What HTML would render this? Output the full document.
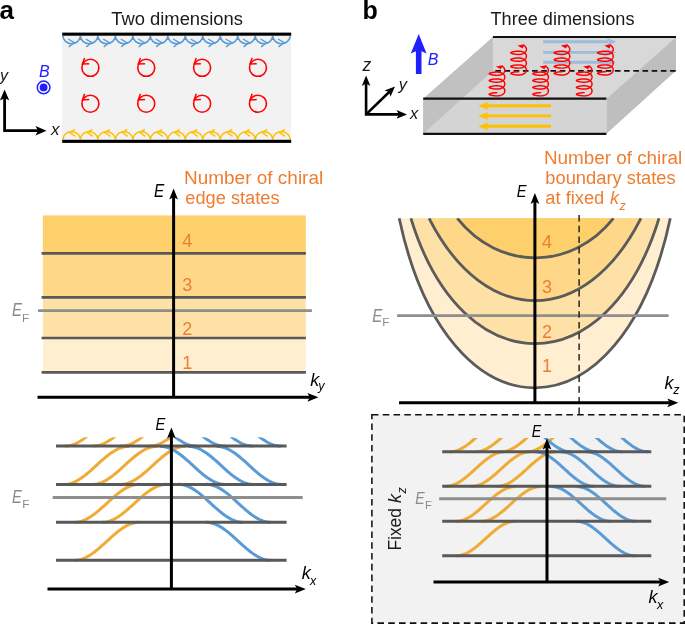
<!DOCTYPE html>
<html><head><meta charset="utf-8"><title>Chiral boundary states</title>
<style>
html,body{margin:0;padding:0;background:#fff;}
body{width:685px;height:624px;overflow:hidden;font-family:"Liberation Sans",sans-serif;}
svg{display:block;will-change:transform;font-family:"Liberation Sans",sans-serif;}
</style></head><body>
<svg width="685" height="624" viewBox="0 0 685 624">
<rect width="685" height="624" fill="#ffffff"/>
<!-- panel a top -->
<text x="-0.5" y="19.2" font-size="26" fill="#000" text-anchor="start" font-weight="bold" >a</text>
<text x="111.2" y="25.2" font-size="18" fill="#1a1a1a" text-anchor="start" textLength="131.8" lengthAdjust="spacingAndGlyphs"  >Two dimensions</text>
<rect x="62.2" y="34" width="229" height="107" fill="#f2f2f2"/>
<path d="M62.9 35.7A8.74 8 0 0 0 80.38 35.7M80.38 35.7A8.74 8 0 0 0 97.87 35.7M97.87 35.7A8.74 8 0 0 0 115.35 35.7M115.35 35.7A8.74 8 0 0 0 132.84 35.7M132.84 35.7A8.74 8 0 0 0 150.32 35.7M150.32 35.7A8.74 8 0 0 0 167.81 35.7M167.81 35.7A8.74 8 0 0 0 185.29 35.7M185.29 35.7A8.74 8 0 0 0 202.78 35.7M202.78 35.7A8.74 8 0 0 0 220.26 35.7M220.26 35.7A8.74 8 0 0 0 237.75 35.7M237.75 35.7A8.74 8 0 0 0 255.23 35.7M255.23 35.7A8.74 8 0 0 0 272.72 35.7M272.72 35.7A8.74 8 0 0 0 290.2 35.7" fill="none" stroke="#5b9bd5" stroke-width="1.6"/>
<path d="M68.24 39L74.24 42.6L68.74 46.9M85.73 39L91.73 42.6L86.23 46.9M103.21 39L109.21 42.6L103.71 46.9M120.7 39L126.7 42.6L121.2 46.9M138.18 39L144.18 42.6L138.68 46.9M155.67 39L161.67 42.6L156.17 46.9M173.15 39L179.15 42.6L173.65 46.9M190.63 39L196.63 42.6L191.13 46.9M208.12 39L214.12 42.6L208.62 46.9M225.6 39L231.6 42.6L226.1 46.9M243.09 39L249.09 42.6L243.59 46.9M260.57 39L266.57 42.6L261.07 46.9M278.06 39L284.06 42.6L278.56 46.9" fill="none" stroke="#5b9bd5" stroke-width="1.4" stroke-linejoin="miter"/>
<path d="M62.9 139.8A8.74 8.2 0 0 1 80.38 139.8M80.38 139.8A8.74 8.2 0 0 1 97.87 139.8M97.87 139.8A8.74 8.2 0 0 1 115.35 139.8M115.35 139.8A8.74 8.2 0 0 1 132.84 139.8M132.84 139.8A8.74 8.2 0 0 1 150.32 139.8M150.32 139.8A8.74 8.2 0 0 1 167.81 139.8M167.81 139.8A8.74 8.2 0 0 1 185.29 139.8M185.29 139.8A8.74 8.2 0 0 1 202.78 139.8M202.78 139.8A8.74 8.2 0 0 1 220.26 139.8M220.26 139.8A8.74 8.2 0 0 1 237.75 139.8M237.75 139.8A8.74 8.2 0 0 1 255.23 139.8M255.23 139.8A8.74 8.2 0 0 1 272.72 139.8M272.72 139.8A8.74 8.2 0 0 1 290.2 139.8" fill="none" stroke="#ffc000" stroke-width="1.6"/>
<path d="M74.84 129.3L69.84 132.5L75.34 136.4M92.33 129.3L87.33 132.5L92.83 136.4M109.81 129.3L104.81 132.5L110.31 136.4M127.3 129.3L122.3 132.5L127.8 136.4M144.78 129.3L139.78 132.5L145.28 136.4M162.27 129.3L157.27 132.5L162.77 136.4M179.75 129.3L174.75 132.5L180.25 136.4M197.23 129.3L192.23 132.5L197.73 136.4M214.72 129.3L209.72 132.5L215.22 136.4M232.2 129.3L227.2 132.5L232.7 136.4M249.69 129.3L244.69 132.5L250.19 136.4M267.17 129.3L262.17 132.5L267.67 136.4M284.66 129.3L279.66 132.5L285.16 136.4" fill="none" stroke="#ffc000" stroke-width="1.4"/>
<rect x="62.2" y="32.6" width="229" height="3.1" fill="#000"/>
<rect x="62.2" y="139.8" width="229" height="3.1" fill="#000"/>
<circle cx="90.4" cy="67.8" r="8.5" fill="none" stroke="#ff0000" stroke-width="1.6"/>
<path d="M84.6 57.9L82.4 64L89.2 63.7" fill="none" stroke="#ff0000" stroke-width="1.5"/>
<circle cx="146.25" cy="67.8" r="8.5" fill="none" stroke="#ff0000" stroke-width="1.6"/>
<path d="M140.45 57.9L138.25 64L145.05 63.7" fill="none" stroke="#ff0000" stroke-width="1.5"/>
<circle cx="202.1" cy="67.8" r="8.5" fill="none" stroke="#ff0000" stroke-width="1.6"/>
<path d="M196.3 57.9L194.1 64L200.9 63.7" fill="none" stroke="#ff0000" stroke-width="1.5"/>
<circle cx="257.95" cy="67.8" r="8.5" fill="none" stroke="#ff0000" stroke-width="1.6"/>
<path d="M252.15 57.9L249.95 64L256.75 63.7" fill="none" stroke="#ff0000" stroke-width="1.5"/>
<circle cx="90.4" cy="103.7" r="8.5" fill="none" stroke="#ff0000" stroke-width="1.6"/>
<path d="M84.6 93.8L82.4 99.9L89.2 99.6" fill="none" stroke="#ff0000" stroke-width="1.5"/>
<circle cx="146.25" cy="103.7" r="8.5" fill="none" stroke="#ff0000" stroke-width="1.6"/>
<path d="M140.45 93.8L138.25 99.9L145.05 99.6" fill="none" stroke="#ff0000" stroke-width="1.5"/>
<circle cx="202.1" cy="103.7" r="8.5" fill="none" stroke="#ff0000" stroke-width="1.6"/>
<path d="M196.3 93.8L194.1 99.9L200.9 99.6" fill="none" stroke="#ff0000" stroke-width="1.5"/>
<circle cx="257.95" cy="103.7" r="8.5" fill="none" stroke="#ff0000" stroke-width="1.6"/>
<path d="M252.15 93.8L249.95 99.9L256.75 99.6" fill="none" stroke="#ff0000" stroke-width="1.5"/>
<text x="39" y="77.3" font-size="16" fill="#2020ff" text-anchor="start" font-style="italic" >B</text>
<circle cx="43.6" cy="87.4" r="6.3" fill="none" stroke="#2020ff" stroke-width="1.5"/>
<circle cx="43.6" cy="87.4" r="3.9" fill="#2020ff"/>
<path d="M4.6 97V130.7H38" fill="none" stroke="#000" stroke-width="2.8"/>
<polygon points="4.6,89.6 9.3,100.6 4.6,98.1 -0.1,100.6" fill="#000"/>
<polygon points="46.5,130.7 35.5,135.4 38,130.7 35.5,126" fill="#000"/>
<text x="0" y="80.7" font-size="16" fill="#1a1a1a" text-anchor="start" font-style="italic" >y</text>
<text x="51" y="135.3" font-size="17" fill="#1a1a1a" text-anchor="start" font-style="italic" >x</text>
<!-- panel a middle -->
<rect x="42.9" y="215.4" width="262.9" height="37.9" fill="#fdd06c"/>
<rect x="42.9" y="253.3" width="262.9" height="44.1" fill="#fed788"/>
<rect x="42.9" y="297.4" width="262.9" height="40.6" fill="#fee1a6"/>
<rect x="42.9" y="338" width="262.9" height="34.3" fill="#ffefd0"/>
<line x1="41.6" y1="253.3" x2="305.9" y2="253.3" stroke="#595959" stroke-width="2.7" />
<line x1="41.6" y1="297.4" x2="305.9" y2="297.4" stroke="#595959" stroke-width="2.7" />
<line x1="41.6" y1="338" x2="305.9" y2="338" stroke="#595959" stroke-width="2.7" />
<line x1="41.6" y1="372.3" x2="305.9" y2="372.3" stroke="#595959" stroke-width="2.7" />
<line x1="38.1" y1="310.7" x2="311.9" y2="310.7" stroke="#8e8e8e" stroke-width="2.7" />
<line x1="37.5" y1="397.3" x2="312" y2="397.3" stroke="#000" stroke-width="3" />
<polygon points="318.4,397.3 307.4,401.7 309.8,397.3 307.4,392.9" fill="#000"/>
<line x1="173.6" y1="397.3" x2="173.6" y2="196" stroke="#000" stroke-width="3" />
<polygon points="173.6,188.4 178,199.4 173.6,197 169.2,199.4" fill="#000"/>
<text x="153.9" y="196.8" font-size="18" fill="#000" text-anchor="start" textLength="10.2" lengthAdjust="spacingAndGlyphs" font-style="italic" >E</text>
<text x="184" y="184.2" font-size="18" fill="#ee7d32" text-anchor="start" textLength="139.2" lengthAdjust="spacingAndGlyphs"  >Number of chiral</text>
<text x="185.3" y="203.5" font-size="18" fill="#ee7d32" text-anchor="start" textLength="94.2" lengthAdjust="spacingAndGlyphs"  >edge states</text>
<text x="182.3" y="246.9" font-size="18" fill="#ee7d32" text-anchor="start"  >4</text>
<text x="182.3" y="290.5" font-size="18" fill="#ee7d32" text-anchor="start"  >3</text>
<text x="182.3" y="334.8" font-size="18" fill="#ee7d32" text-anchor="start"  >2</text>
<text x="182.3" y="368.9" font-size="18" fill="#ee7d32" text-anchor="start"  >1</text>
<text x="310.3" y="386" font-size="18" fill="#000" text-anchor="start" font-style="italic" >k</text>
<text x="318.2" y="389.8" font-size="12.5" fill="#000" text-anchor="start" font-style="italic" >y</text>
<text x="12" y="315.8" font-size="18" fill="#8a8a8a" text-anchor="start" textLength="10" lengthAdjust="spacingAndGlyphs" font-style="italic" >E</text>
<text x="22" y="321.7" font-size="11.8" fill="#8a8a8a" text-anchor="start"  >F</text>
<!-- panel a bottom -->
<clipPath id="aclip"><rect x="0" y="437.3" width="685" height="300"/></clipPath>
<g clip-path="url(#aclip)" fill="none" stroke-width="3" stroke-linecap="butt">
<path d="M74.3 560.3L75.93 560.24L77.55 560.07L79.18 559.78L80.8 559.37L82.43 558.85L84.05 558.23L85.68 557.5L87.3 556.67L88.93 555.75L90.55 554.74L92.18 553.64L93.8 552.47L95.43 551.23L97.05 549.93L98.68 548.57L100.3 547.17L101.93 545.74L103.55 544.27L105.18 542.79L106.8 541.3L108.43 539.81L110.05 538.33L111.68 536.86L113.3 535.43L114.93 534.03L116.55 532.67L118.18 531.37L119.8 530.13L121.43 528.96L123.05 527.86L124.68 526.85L126.3 525.93L127.93 525.1L129.55 524.37L131.18 523.75L132.8 523.23L134.43 522.82L136.05 522.53L137.68 522.36L139.3 522.3M74.3 522.3L75.93 522.24L77.55 522.07L79.18 521.78L80.8 521.37L82.43 520.85L84.05 520.23L85.68 519.5L87.3 518.67L88.93 517.75L90.55 516.74L92.18 515.64L93.8 514.47L95.43 513.23L97.05 511.93L98.68 510.57L100.3 509.17L101.93 507.74L103.55 506.27L105.18 504.79L106.8 503.3L108.43 501.81L110.05 500.33L111.68 498.86L113.3 497.43L114.93 496.03L116.55 494.67L118.18 493.37L119.8 492.13L121.43 490.96L123.05 489.86L124.68 488.85L126.3 487.93L127.93 487.1L129.55 486.37L131.18 485.75L132.8 485.23L134.43 484.82L136.05 484.53L137.68 484.36L139.3 484.3M102 522.3L103.62 522.24L105.25 522.07L106.88 521.78L108.5 521.37L110.12 520.85L111.75 520.23L113.38 519.5L115 518.67L116.62 517.75L118.25 516.74L119.88 515.64L121.5 514.47L123.12 513.23L124.75 511.93L126.38 510.57L128 509.17L129.62 507.74L131.25 506.27L132.88 504.79L134.5 503.3L136.12 501.81L137.75 500.33L139.38 498.86L141 497.43L142.62 496.03L144.25 494.67L145.88 493.37L147.5 492.13L149.12 490.96L150.75 489.86L152.38 488.85L154 487.93L155.62 487.1L157.25 486.37L158.88 485.75L160.5 485.23L162.12 484.82L163.75 484.53L165.38 484.36L167 484.3M63.9 484.4L65.53 484.34L67.15 484.17L68.78 483.88L70.4 483.47L72.03 482.95L73.65 482.33L75.28 481.6L76.9 480.77L78.53 479.85L80.15 478.84L81.78 477.74L83.4 476.57L85.03 475.33L86.65 474.03L88.28 472.67L89.9 471.27L91.53 469.84L93.15 468.37L94.78 466.89L96.4 465.4L98.03 463.91L99.65 462.43L101.28 460.96L102.9 459.53L104.53 458.13L106.15 456.77L107.78 455.47L109.4 454.23L111.03 453.06L112.65 451.96L114.28 450.95L115.9 450.03L117.53 449.2L119.15 448.47L120.78 447.85L122.4 447.33L124.03 446.92L125.65 446.63L127.28 446.46L128.9 446.4M92.1 484.4L93.73 484.34L95.35 484.17L96.98 483.88L98.6 483.47L100.23 482.95L101.85 482.33L103.48 481.6L105.1 480.77L106.73 479.85L108.35 478.84L109.98 477.74L111.6 476.57L113.23 475.33L114.85 474.03L116.48 472.67L118.1 471.27L119.73 469.84L121.35 468.37L122.98 466.89L124.6 465.4L126.23 463.91L127.85 462.43L129.48 460.96L131.1 459.53L132.73 458.13L134.35 456.77L135.98 455.47L137.6 454.23L139.23 453.06L140.85 451.96L142.48 450.95L144.1 450.03L145.73 449.2L147.35 448.47L148.98 447.85L150.6 447.33L152.23 446.92L153.85 446.63L155.48 446.46L157.1 446.4M120.3 484.4L121.93 484.34L123.55 484.17L125.18 483.88L126.8 483.47L128.43 482.95L130.05 482.33L131.68 481.6L133.3 480.77L134.93 479.85L136.55 478.84L138.18 477.74L139.8 476.57L141.43 475.33L143.05 474.03L144.68 472.67L146.3 471.27L147.93 469.84L149.55 468.37L151.18 466.89L152.8 465.4L154.43 463.91L156.05 462.43L157.68 460.96L159.3 459.53L160.93 458.13L162.55 456.77L164.18 455.47L165.8 454.23L167.43 453.06L169.05 451.96L170.68 450.95L172.3 450.03L173.93 449.2L175.55 448.47L177.18 447.85L178.8 447.33L180.43 446.92L182.05 446.63L183.68 446.46L185.3 446.4M64.9 446.1L66.53 446.04L68.15 445.87L69.78 445.58L71.4 445.17L73.03 444.65L74.65 444.03L76.28 443.3L77.9 442.47L79.53 441.55L81.15 440.54L82.78 439.44L84.4 438.27L86.03 437.03L87.65 435.73L89.28 434.37L90.9 432.97L92.53 431.54L94.15 430.07L95.78 428.59L97.4 427.1L99.03 425.61L100.65 424.13L102.28 422.66L103.9 421.23L105.53 419.83L107.15 418.47L108.78 417.17L110.4 415.93L112.03 414.76L113.65 413.66L115.28 412.65L116.9 411.73L118.53 410.9L120.15 410.17L121.78 409.55L123.4 409.03L125.03 408.62L126.65 408.33L128.28 408.16L129.9 408.1M92.9 446.1L94.53 446.04L96.15 445.87L97.78 445.58L99.4 445.17L101.03 444.65L102.65 444.03L104.28 443.3L105.9 442.47L107.53 441.55L109.15 440.54L110.78 439.44L112.4 438.27L114.03 437.03L115.65 435.73L117.28 434.37L118.9 432.97L120.53 431.54L122.15 430.07L123.78 428.59L125.4 427.1L127.03 425.61L128.65 424.13L130.28 422.66L131.9 421.23L133.53 419.83L135.15 418.47L136.78 417.17L138.4 415.93L140.03 414.76L141.65 413.66L143.28 412.65L144.9 411.73L146.53 410.9L148.15 410.17L149.78 409.55L151.4 409.03L153.03 408.62L154.65 408.33L156.28 408.16L157.9 408.1M120.9 446.1L122.53 446.04L124.15 445.87L125.78 445.58L127.4 445.17L129.03 444.65L130.65 444.03L132.28 443.3L133.9 442.47L135.53 441.55L137.15 440.54L138.78 439.44L140.4 438.27L142.03 437.03L143.65 435.73L145.28 434.37L146.9 432.97L148.53 431.54L150.15 430.07L151.78 428.59L153.4 427.1L155.03 425.61L156.65 424.13L158.28 422.66L159.9 421.23L161.53 419.83L163.15 418.47L164.78 417.17L166.4 415.93L168.03 414.76L169.65 413.66L171.28 412.65L172.9 411.73L174.53 410.9L176.15 410.17L177.78 409.55L179.4 409.03L181.03 408.62L182.65 408.33L184.28 408.16L185.9 408.1M149.4 446.1L151.03 446.04L152.65 445.87L154.28 445.58L155.9 445.17L157.53 444.65L159.15 444.03L160.78 443.3L162.4 442.47L164.03 441.55L165.65 440.54L167.28 439.44L168.9 438.27L170.53 437.03L172.15 435.73L173.78 434.37L175.4 432.97L177.03 431.54L178.65 430.07L180.28 428.59L181.9 427.1L183.53 425.61L185.15 424.13L186.78 422.66L188.4 421.23L190.03 419.83L191.65 418.47L193.28 417.17L194.9 415.93L196.53 414.76L198.15 413.66L199.78 412.65L201.4 411.73L203.03 410.9L204.65 410.17L206.28 409.55L207.9 409.03L209.53 408.62L211.15 408.33L212.78 408.16L214.4 408.1" stroke="#f0ab34"/>
<path d="M205.9 522.3L207.53 522.36L209.15 522.53L210.78 522.82L212.4 523.23L214.03 523.75L215.65 524.37L217.28 525.1L218.9 525.93L220.53 526.85L222.15 527.86L223.78 528.96L225.4 530.13L227.03 531.37L228.65 532.67L230.28 534.03L231.9 535.43L233.53 536.86L235.15 538.33L236.78 539.81L238.4 541.3L240.03 542.79L241.65 544.27L243.28 545.74L244.9 547.17L246.53 548.57L248.15 549.93L249.78 551.23L251.4 552.47L253.03 553.64L254.65 554.74L256.27 555.75L257.9 556.67L259.52 557.5L261.15 558.23L262.77 558.85L264.4 559.37L266.02 559.78L267.65 560.07L269.27 560.24L270.9 560.3M205.9 484.3L207.53 484.36L209.15 484.53L210.78 484.82L212.4 485.23L214.03 485.75L215.65 486.37L217.28 487.1L218.9 487.93L220.53 488.85L222.15 489.86L223.78 490.96L225.4 492.13L227.03 493.37L228.65 494.67L230.28 496.03L231.9 497.43L233.53 498.86L235.15 500.33L236.78 501.81L238.4 503.3L240.03 504.79L241.65 506.27L243.28 507.74L244.9 509.17L246.53 510.57L248.15 511.93L249.78 513.23L251.4 514.47L253.03 515.64L254.65 516.74L256.27 517.75L257.9 518.67L259.52 519.5L261.15 520.23L262.77 520.85L264.4 521.37L266.02 521.78L267.65 522.07L269.27 522.24L270.9 522.3M178.2 484.3L179.82 484.36L181.45 484.53L183.07 484.82L184.7 485.23L186.32 485.75L187.95 486.37L189.57 487.1L191.2 487.93L192.82 488.85L194.45 489.86L196.07 490.96L197.7 492.13L199.32 493.37L200.95 494.67L202.57 496.03L204.2 497.43L205.82 498.86L207.45 500.33L209.07 501.81L210.7 503.3L212.32 504.79L213.95 506.27L215.57 507.74L217.2 509.17L218.82 510.57L220.45 511.93L222.07 513.23L223.7 514.47L225.32 515.64L226.95 516.74L228.57 517.75L230.2 518.67L231.82 519.5L233.45 520.23L235.07 520.85L236.7 521.37L238.32 521.78L239.95 522.07L241.57 522.24L243.2 522.3M216.7 446.4L218.32 446.46L219.95 446.63L221.57 446.92L223.2 447.33L224.82 447.85L226.45 448.47L228.07 449.2L229.7 450.03L231.32 450.95L232.95 451.96L234.57 453.06L236.2 454.23L237.82 455.47L239.45 456.77L241.07 458.13L242.7 459.53L244.32 460.96L245.95 462.43L247.57 463.91L249.2 465.4L250.82 466.89L252.45 468.37L254.07 469.84L255.7 471.27L257.32 472.67L258.95 474.03L260.57 475.33L262.2 476.57L263.82 477.74L265.45 478.84L267.07 479.85L268.7 480.77L270.32 481.6L271.95 482.33L273.57 482.95L275.2 483.47L276.82 483.88L278.45 484.17L280.07 484.34L281.7 484.4M188.5 446.4L190.12 446.46L191.75 446.63L193.38 446.92L195 447.33L196.62 447.85L198.25 448.47L199.88 449.2L201.5 450.03L203.12 450.95L204.75 451.96L206.38 453.06L208 454.23L209.62 455.47L211.25 456.77L212.88 458.13L214.5 459.53L216.12 460.96L217.75 462.43L219.38 463.91L221 465.4L222.62 466.89L224.25 468.37L225.88 469.84L227.5 471.27L229.12 472.67L230.75 474.03L232.38 475.33L234 476.57L235.62 477.74L237.25 478.84L238.88 479.85L240.5 480.77L242.12 481.6L243.75 482.33L245.38 482.95L247 483.47L248.62 483.88L250.25 484.17L251.88 484.34L253.5 484.4M160.3 446.4L161.93 446.46L163.55 446.63L165.18 446.92L166.8 447.33L168.43 447.85L170.05 448.47L171.68 449.2L173.3 450.03L174.93 450.95L176.55 451.96L178.18 453.06L179.8 454.23L181.43 455.47L183.05 456.77L184.68 458.13L186.3 459.53L187.93 460.96L189.55 462.43L191.18 463.91L192.8 465.4L194.43 466.89L196.05 468.37L197.68 469.84L199.3 471.27L200.93 472.67L202.55 474.03L204.18 475.33L205.8 476.57L207.43 477.74L209.05 478.84L210.68 479.85L212.3 480.77L213.93 481.6L215.55 482.33L217.18 482.95L218.8 483.47L220.43 483.88L222.05 484.17L223.68 484.34L225.3 484.4M215.9 408.1L217.53 408.16L219.15 408.33L220.78 408.62L222.4 409.03L224.03 409.55L225.65 410.17L227.28 410.9L228.9 411.73L230.53 412.65L232.15 413.66L233.78 414.76L235.4 415.93L237.03 417.17L238.65 418.47L240.28 419.83L241.9 421.23L243.53 422.66L245.15 424.13L246.78 425.61L248.4 427.1L250.03 428.59L251.65 430.07L253.28 431.54L254.9 432.97L256.52 434.37L258.15 435.73L259.77 437.03L261.4 438.27L263.02 439.44L264.65 440.54L266.27 441.55L267.9 442.47L269.52 443.3L271.15 444.03L272.77 444.65L274.4 445.17L276.02 445.58L277.65 445.87L279.27 446.04L280.9 446.1M187.9 408.1L189.53 408.16L191.15 408.33L192.78 408.62L194.4 409.03L196.03 409.55L197.65 410.17L199.28 410.9L200.9 411.73L202.53 412.65L204.15 413.66L205.78 414.76L207.4 415.93L209.03 417.17L210.65 418.47L212.28 419.83L213.9 421.23L215.53 422.66L217.15 424.13L218.78 425.61L220.4 427.1L222.03 428.59L223.65 430.07L225.28 431.54L226.9 432.97L228.53 434.37L230.15 435.73L231.78 437.03L233.4 438.27L235.03 439.44L236.65 440.54L238.28 441.55L239.9 442.47L241.53 443.3L243.15 444.03L244.78 444.65L246.4 445.17L248.03 445.58L249.65 445.87L251.28 446.04L252.9 446.1M159.9 408.1L161.53 408.16L163.15 408.33L164.78 408.62L166.4 409.03L168.03 409.55L169.65 410.17L171.28 410.9L172.9 411.73L174.53 412.65L176.15 413.66L177.78 414.76L179.4 415.93L181.03 417.17L182.65 418.47L184.28 419.83L185.9 421.23L187.53 422.66L189.15 424.13L190.78 425.61L192.4 427.1L194.03 428.59L195.65 430.07L197.28 431.54L198.9 432.97L200.53 434.37L202.15 435.73L203.78 437.03L205.4 438.27L207.03 439.44L208.65 440.54L210.28 441.55L211.9 442.47L213.53 443.3L215.15 444.03L216.78 444.65L218.4 445.17L220.03 445.58L221.65 445.87L223.28 446.04L224.9 446.1M131.4 408.1L133.03 408.16L134.65 408.33L136.28 408.62L137.9 409.03L139.53 409.55L141.15 410.17L142.78 410.9L144.4 411.73L146.03 412.65L147.65 413.66L149.28 414.76L150.9 415.93L152.53 417.17L154.15 418.47L155.78 419.83L157.4 421.23L159.03 422.66L160.65 424.13L162.28 425.61L163.9 427.1L165.53 428.59L167.15 430.07L168.78 431.54L170.4 432.97L172.03 434.37L173.65 435.73L175.28 437.03L176.9 438.27L178.53 439.44L180.15 440.54L181.78 441.55L183.4 442.47L185.03 443.3L186.65 444.03L188.28 444.65L189.9 445.17L191.53 445.58L193.15 445.87L194.78 446.04L196.4 446.1" stroke="#5b9bd5"/>
</g>
<line x1="56" y1="560.3" x2="286.6" y2="560.3" stroke="#595959" stroke-width="3" />
<line x1="56" y1="522.3" x2="286.6" y2="522.3" stroke="#595959" stroke-width="3" />
<line x1="56" y1="484.4" x2="286.6" y2="484.4" stroke="#595959" stroke-width="3" />
<line x1="56" y1="446.1" x2="286.6" y2="446.1" stroke="#595959" stroke-width="3" />
<line x1="52.7" y1="497.6" x2="302.7" y2="497.6" stroke="#8e8e8e" stroke-width="3" />
<line x1="47.5" y1="589.1" x2="299" y2="589.1" stroke="#000" stroke-width="3" />
<polygon points="305.8,589.1 294.8,593.5 297.2,589.1 294.8,584.7" fill="#000"/>
<line x1="171.4" y1="589.1" x2="171.4" y2="435" stroke="#000" stroke-width="3" />
<polygon points="171.4,427.4 175.8,438.4 171.4,436 167,438.4" fill="#000"/>
<text x="155.5" y="430.1" font-size="17" fill="#000" text-anchor="start" textLength="9.8" lengthAdjust="spacingAndGlyphs" font-style="italic" >E</text>
<text x="301.7" y="579.2" font-size="18" fill="#000" text-anchor="start" font-style="italic" >k</text>
<text x="310" y="584.9" font-size="12.5" fill="#000" text-anchor="start" font-style="italic" >x</text>
<text x="12" y="502.9" font-size="17.5" fill="#8a8a8a" text-anchor="start" textLength="9.8" lengthAdjust="spacingAndGlyphs" font-style="italic" >E</text>
<text x="22.2" y="508.1" font-size="11.8" fill="#8a8a8a" text-anchor="start"  >F</text>
<!-- panel b top -->
<text x="362.6" y="18.5" font-size="25" fill="#000" text-anchor="start" font-weight="bold" >b</text>
<text x="490.5" y="25" font-size="18" fill="#1a1a1a" text-anchor="start" textLength="144" lengthAdjust="spacingAndGlyphs"  >Three dimensions</text>
<polygon points="423.2,98.7 492.9,36.9 676,36.9 606.4,98.7" fill="#d8d8d8" />
<polygon points="423.2,98.7 606.4,98.7 606.4,133.8 423.2,133.8" fill="#d4d4d4" />
<polygon points="423.2,98.7 492.9,36.9 492.9,70.8 423.2,133.8" fill="#bdbdbd" fill-opacity="0.85"/>
<polygon points="606.4,98.7 676,36.9 676,70.8 606.4,133.8" fill="#bebebe" />
<line x1="543.1" y1="41.7" x2="608" y2="41.7" stroke="#9dbbdd" stroke-width="2.9" />
<polygon points="616.4,41.7 606.9,45.4 608.8,41.7 606.9,38" fill="#9dbbdd"/>
<line x1="543.1" y1="52.4" x2="608" y2="52.4" stroke="#9dbbdd" stroke-width="2.9" />
<polygon points="616.4,52.4 606.9,56.1 608.8,52.4 606.9,48.7" fill="#9dbbdd"/>
<line x1="543.1" y1="62.3" x2="608" y2="62.3" stroke="#9dbbdd" stroke-width="2.9" />
<polygon points="616.4,62.3 606.9,66 608.8,62.3 606.9,58.6" fill="#9dbbdd"/>
<line x1="495.3" y1="70.8" x2="676" y2="70.8" stroke="#111" stroke-width="1.8" stroke-dasharray="5.6 3.6"/>
<line x1="486" y1="105.8" x2="551" y2="105.8" stroke="#ffc000" stroke-width="2.9" />
<polygon points="478.4,105.8 488.4,101.7 486,105.8 488.4,109.9" fill="#ffc000"/>
<line x1="486" y1="115.9" x2="551" y2="115.9" stroke="#ffc000" stroke-width="2.9" />
<polygon points="478.4,115.9 488.4,111.8 486,115.9 488.4,120" fill="#ffc000"/>
<line x1="486" y1="126.3" x2="551" y2="126.3" stroke="#ffc000" stroke-width="2.9" />
<polygon points="478.4,126.3 488.4,122.2 486,126.3 488.4,130.4" fill="#ffc000"/>
<line x1="492.9" y1="36.9" x2="676" y2="36.9" stroke="#111" stroke-width="2" />
<line x1="423.2" y1="98.7" x2="606.4" y2="98.7" stroke="#111" stroke-width="2.2" />
<line x1="423.2" y1="133.8" x2="606.4" y2="133.8" stroke="#111" stroke-width="2.2" />
<path d="M519.09 71.74L518.35 71.72L517.62 71.74L516.89 71.78L516.18 71.84L515.49 71.92L514.83 72.02L514.2 72.12L513.62 72.23L513.07 72.35L512.58 72.47L512.14 72.6L511.75 72.72L511.43 72.85L511.17 72.97L510.98 73.09L510.86 73.21L510.8 73.33L510.82 73.45L510.9 73.57L511.05 73.69L511.27 73.81L511.56 73.93L511.91 74.05L512.32 74.18L512.78 74.3L513.3 74.42L513.86 74.54L514.47 74.65L515.11 74.75L515.78 74.84L516.48 74.91L517.2 74.97L517.93 75L518.66 75L519.4 74.97L520.13 74.91L520.84 74.82L521.54 74.68L522.21 74.51L522.84 74.29L523.44 74.03L524 73.74L524.5 73.4L524.96 73.02L525.36 72.61L525.69 72.18L525.97 71.71L526.18 71.22L526.32 70.72L526.39 70.21L526.39 69.7L526.33 69.19L526.19 68.69L525.99 68.2L525.72 67.73L525.38 67.29L524.99 66.88L524.54 66.5L524.04 66.16L523.48 65.86L522.89 65.6L522.25 65.38L521.59 65.21L520.9 65.07L520.18 64.97L519.45 64.91L518.72 64.88L517.98 64.88L517.25 64.91L516.53 64.96L515.83 65.03L515.16 65.12L514.51 65.22L513.9 65.33L513.34 65.44L512.82 65.56L512.35 65.69L511.94 65.81L511.58 65.93L511.29 66.06L511.07 66.18L510.91 66.3L510.82 66.42L510.8 66.54L510.85 66.66L510.97 66.78L511.16 66.9L511.41 67.02L511.73 67.14L512.11 67.27L512.54 67.39L513.03 67.51L513.57 67.63L514.16 67.75L514.78 67.85L515.44 67.95L516.13 68.03L516.84 68.09L517.56 68.13L518.3 68.15L519.04 68.14L519.77 68.1L520.49 68.02L521.2 67.9L521.88 67.75L522.53 67.55L523.15 67.32L523.73 67.04L524.26 66.72L524.74 66.36L525.17 65.97L525.53 65.55L525.84 65.09L526.08 64.62L526.26 64.12L526.36 63.62L526.4 63.1L526.37 62.59L526.27 62.08L526.1 61.59L525.86 61.11L525.56 60.66L525.19 60.23L524.77 59.84L524.29 59.48L523.76 59.16L523.19 58.88L522.57 58.64L521.92 58.44L521.24 58.28L520.54 58.16L519.82 58.08L519.08 58.04L518.35 58.02L517.61 58.04L516.89 58.08L516.18 58.14L515.49 58.22L514.83 58.32L514.2 58.42L513.61 58.53L513.07 58.65L512.57 58.78L512.13 58.9L511.75 59.02L511.43 59.15L511.17 59.27L510.98 59.39L510.86 59.51L510.8 59.63L510.82 59.75L510.9 59.87L511.06 59.99L511.28 60.11L511.56 60.23L511.91 60.36L512.32 60.48L512.78 60.6L513.3 60.72L513.86 60.84L514.47 60.95L515.11 61.05L515.79 61.14L516.49 61.21L517.2 61.27L517.93 61.3L518.67 61.3L519.41 61.27L520.13 61.21L520.85 61.12L521.54 60.98L522.21 60.8L522.85 60.59L523.45 60.33L524 60.03L524.51 59.69L524.96 59.32L525.36 58.91L525.7 58.47L525.97 58.01L526.18 57.52L526.32 57.02L526.39 56.51L526.39 56L526.32 55.48L526.19 54.98L525.98 54.5L525.71 54.03L525.38 53.59L524.99 53.18L524.54 52.8L524.03 52.46L523.48 52.16L522.88 51.9L522.25 51.68L521.58 51.5L520.89 51.37L520.18 51.27L519.45 51.21L518.71 51.18L517.98 51.18L517.25 51.21L516.53 51.26L515.83 51.33L515.15 51.42L514.51 51.52L513.9 51.63L513.33 51.74L512.81 51.86L512.35 51.99L511.93 52.11L511.58 52.24L511.29 52.36L511.07 52.48L510.91 52.6L510.82 52.72L510.8 52.84L510.85 52.96L510.97 53.08L511.16 53.2L511.41 53.32L511.73 53.44L512.11 53.57L512.55 53.69L513.04 53.81L513.58 53.93L514.16 54.05L514.79 54.15L515.45 54.25L516.14 54.33L516.85 54.39L517.57 54.43L518.3 54.45L519.04 54.44L519.77 54.4L520.5 54.32L521.2 54.2L521.88 54.05L522.54 53.85L523.15 53.61L523.73 53.34L524.26 53.02L524.74 52.66L525.17 52.27L525.54 51.84L525.84 51.39L526.08 50.91L526.26 50.42L526.36 49.91L526.4 49.4L526.37 48.89L526.26 48.38L526.09 47.89L525.86 47.41L525.55 46.95L525.19 46.53L524.77 46.13L524.29 45.77L523.76 45.45L523.18 45.17" fill="none" stroke="#ff0000" stroke-width="1.45" stroke-linejoin="round"/><polygon points="517.5,45.52 524.5,44.23 522.5,48.42" fill="#ff0000" />
<path d="M562.49 71.74L561.75 71.72L561.02 71.74L560.29 71.78L559.58 71.84L558.89 71.92L558.23 72.02L557.6 72.12L557.02 72.23L556.47 72.35L555.98 72.47L555.54 72.6L555.15 72.72L554.83 72.85L554.57 72.97L554.38 73.09L554.26 73.21L554.2 73.33L554.22 73.45L554.3 73.57L554.45 73.69L554.67 73.81L554.96 73.93L555.31 74.05L555.72 74.18L556.18 74.3L556.7 74.42L557.26 74.54L557.87 74.65L558.51 74.75L559.18 74.84L559.88 74.91L560.6 74.97L561.33 75L562.06 75L562.8 74.97L563.53 74.91L564.24 74.82L564.94 74.68L565.61 74.51L566.24 74.29L566.84 74.03L567.4 73.74L567.9 73.4L568.36 73.02L568.76 72.61L569.09 72.18L569.37 71.71L569.58 71.22L569.72 70.72L569.79 70.21L569.79 69.7L569.73 69.19L569.59 68.69L569.39 68.2L569.12 67.73L568.78 67.29L568.39 66.88L567.94 66.5L567.44 66.16L566.88 65.86L566.29 65.6L565.65 65.38L564.99 65.21L564.3 65.07L563.58 64.97L562.85 64.91L562.12 64.88L561.38 64.88L560.65 64.91L559.93 64.96L559.23 65.03L558.56 65.12L557.91 65.22L557.3 65.33L556.74 65.44L556.22 65.56L555.75 65.69L555.34 65.81L554.98 65.93L554.69 66.06L554.47 66.18L554.31 66.3L554.22 66.42L554.2 66.54L554.25 66.66L554.37 66.78L554.56 66.9L554.81 67.02L555.13 67.14L555.51 67.27L555.94 67.39L556.43 67.51L556.97 67.63L557.56 67.75L558.18 67.85L558.84 67.95L559.53 68.03L560.24 68.09L560.96 68.13L561.7 68.15L562.44 68.14L563.17 68.1L563.89 68.02L564.6 67.9L565.28 67.75L565.93 67.55L566.55 67.32L567.13 67.04L567.66 66.72L568.14 66.36L568.57 65.97L568.93 65.55L569.24 65.09L569.48 64.62L569.66 64.12L569.76 63.62L569.8 63.1L569.77 62.59L569.67 62.08L569.5 61.59L569.26 61.11L568.96 60.66L568.59 60.23L568.17 59.84L567.69 59.48L567.16 59.16L566.59 58.88L565.97 58.64L565.32 58.44L564.64 58.28L563.94 58.16L563.22 58.08L562.48 58.04L561.75 58.02L561.01 58.04L560.29 58.08L559.58 58.14L558.89 58.22L558.23 58.32L557.6 58.42L557.01 58.53L556.47 58.65L555.97 58.78L555.53 58.9L555.15 59.02L554.83 59.15L554.57 59.27L554.38 59.39L554.26 59.51L554.2 59.63L554.22 59.75L554.3 59.87L554.46 59.99L554.68 60.11L554.96 60.23L555.31 60.36L555.72 60.48L556.18 60.6L556.7 60.72L557.26 60.84L557.87 60.95L558.51 61.05L559.19 61.14L559.89 61.21L560.6 61.27L561.33 61.3L562.07 61.3L562.81 61.27L563.53 61.21L564.25 61.12L564.94 60.98L565.61 60.8L566.25 60.59L566.85 60.33L567.4 60.03L567.91 59.69L568.36 59.32L568.76 58.91L569.1 58.47L569.37 58.01L569.58 57.52L569.72 57.02L569.79 56.51L569.79 56L569.72 55.48L569.59 54.98L569.38 54.5L569.11 54.03L568.78 53.59L568.39 53.18L567.94 52.8L567.43 52.46L566.88 52.16L566.28 51.9L565.65 51.68L564.98 51.5L564.29 51.37L563.58 51.27L562.85 51.21L562.11 51.18L561.38 51.18L560.65 51.21L559.93 51.26L559.23 51.33L558.55 51.42L557.91 51.52L557.3 51.63L556.73 51.74L556.21 51.86L555.75 51.99L555.33 52.11L554.98 52.24L554.69 52.36L554.47 52.48L554.31 52.6L554.22 52.72L554.2 52.84L554.25 52.96L554.37 53.08L554.56 53.2L554.81 53.32L555.13 53.44L555.51 53.57L555.95 53.69L556.44 53.81L556.98 53.93L557.56 54.05L558.19 54.15L558.85 54.25L559.54 54.33L560.25 54.39L560.97 54.43L561.7 54.45L562.44 54.44L563.17 54.4L563.9 54.32L564.6 54.2L565.28 54.05L565.94 53.85L566.55 53.61L567.13 53.34L567.66 53.02L568.14 52.66L568.57 52.27L568.94 51.84L569.24 51.39L569.48 50.91L569.66 50.42L569.76 49.91L569.8 49.4L569.77 48.89L569.66 48.38L569.49 47.89L569.26 47.41L568.95 46.95L568.59 46.53L568.17 46.13L567.69 45.77L567.16 45.45L566.58 45.17" fill="none" stroke="#ff0000" stroke-width="1.45" stroke-linejoin="round"/><polygon points="560.9,45.52 567.9,44.23 565.9,48.42" fill="#ff0000" />
<path d="M605.89 71.74L605.15 71.72L604.42 71.74L603.69 71.78L602.98 71.84L602.29 71.92L601.63 72.02L601 72.12L600.42 72.23L599.87 72.35L599.38 72.47L598.94 72.6L598.55 72.72L598.23 72.85L597.97 72.97L597.78 73.09L597.66 73.21L597.6 73.33L597.62 73.45L597.7 73.57L597.85 73.69L598.07 73.81L598.36 73.93L598.71 74.05L599.12 74.18L599.58 74.3L600.1 74.42L600.66 74.54L601.27 74.65L601.91 74.75L602.58 74.84L603.28 74.91L604 74.97L604.73 75L605.46 75L606.2 74.97L606.93 74.91L607.64 74.82L608.34 74.68L609.01 74.51L609.64 74.29L610.24 74.03L610.8 73.74L611.3 73.4L611.76 73.02L612.16 72.61L612.49 72.18L612.77 71.71L612.98 71.22L613.12 70.72L613.19 70.21L613.19 69.7L613.13 69.19L612.99 68.69L612.79 68.2L612.52 67.73L612.18 67.29L611.79 66.88L611.34 66.5L610.84 66.16L610.28 65.86L609.69 65.6L609.05 65.38L608.39 65.21L607.7 65.07L606.98 64.97L606.25 64.91L605.52 64.88L604.78 64.88L604.05 64.91L603.33 64.96L602.63 65.03L601.96 65.12L601.31 65.22L600.7 65.33L600.14 65.44L599.62 65.56L599.15 65.69L598.74 65.81L598.38 65.93L598.09 66.06L597.87 66.18L597.71 66.3L597.62 66.42L597.6 66.54L597.65 66.66L597.77 66.78L597.96 66.9L598.21 67.02L598.53 67.14L598.91 67.27L599.34 67.39L599.83 67.51L600.37 67.63L600.96 67.75L601.58 67.85L602.24 67.95L602.93 68.03L603.64 68.09L604.36 68.13L605.1 68.15L605.84 68.14L606.57 68.1L607.29 68.02L608 67.9L608.68 67.75L609.33 67.55L609.95 67.32L610.53 67.04L611.06 66.72L611.54 66.36L611.97 65.97L612.33 65.55L612.64 65.09L612.88 64.62L613.06 64.12L613.16 63.62L613.2 63.1L613.17 62.59L613.07 62.08L612.9 61.59L612.66 61.11L612.36 60.66L611.99 60.23L611.57 59.84L611.09 59.48L610.56 59.16L609.99 58.88L609.37 58.64L608.72 58.44L608.04 58.28L607.34 58.16L606.62 58.08L605.88 58.04L605.15 58.02L604.41 58.04L603.69 58.08L602.98 58.14L602.29 58.22L601.63 58.32L601 58.42L600.41 58.53L599.87 58.65L599.37 58.78L598.93 58.9L598.55 59.02L598.23 59.15L597.97 59.27L597.78 59.39L597.66 59.51L597.6 59.63L597.62 59.75L597.7 59.87L597.86 59.99L598.08 60.11L598.36 60.23L598.71 60.36L599.12 60.48L599.58 60.6L600.1 60.72L600.66 60.84L601.27 60.95L601.91 61.05L602.59 61.14L603.29 61.21L604 61.27L604.73 61.3L605.47 61.3L606.21 61.27L606.93 61.21L607.65 61.12L608.34 60.98L609.01 60.8L609.65 60.59L610.25 60.33L610.8 60.03L611.31 59.69L611.76 59.32L612.16 58.91L612.5 58.47L612.77 58.01L612.98 57.52L613.12 57.02L613.19 56.51L613.19 56L613.12 55.48L612.99 54.98L612.78 54.5L612.51 54.03L612.18 53.59L611.79 53.18L611.34 52.8L610.83 52.46L610.28 52.16L609.68 51.9L609.05 51.68L608.38 51.5L607.69 51.37L606.98 51.27L606.25 51.21L605.51 51.18L604.78 51.18L604.05 51.21L603.33 51.26L602.63 51.33L601.95 51.42L601.31 51.52L600.7 51.63L600.13 51.74L599.61 51.86L599.15 51.99L598.73 52.11L598.38 52.24L598.09 52.36L597.87 52.48L597.71 52.6L597.62 52.72L597.6 52.84L597.65 52.96L597.77 53.08L597.96 53.2L598.21 53.32L598.53 53.44L598.91 53.57L599.35 53.69L599.84 53.81L600.38 53.93L600.96 54.05L601.59 54.15L602.25 54.25L602.94 54.33L603.65 54.39L604.37 54.43L605.1 54.45L605.84 54.44L606.57 54.4L607.3 54.32L608 54.2L608.68 54.05L609.34 53.85L609.95 53.61L610.53 53.34L611.06 53.02L611.54 52.66L611.97 52.27L612.34 51.84L612.64 51.39L612.88 50.91L613.06 50.42L613.16 49.91L613.2 49.4L613.17 48.89L613.06 48.38L612.89 47.89L612.66 47.41L612.35 46.95L611.99 46.53L611.57 46.13L611.09 45.77L610.56 45.45L609.98 45.17" fill="none" stroke="#ff0000" stroke-width="1.45" stroke-linejoin="round"/><polygon points="604.3,45.52 611.3,44.23 609.3,48.42" fill="#ff0000" />
<path d="M497.49 92.64L496.75 92.62L496.02 92.64L495.29 92.68L494.58 92.74L493.89 92.82L493.23 92.92L492.6 93.02L492.02 93.13L491.47 93.25L490.98 93.37L490.54 93.5L490.15 93.62L489.83 93.75L489.57 93.87L489.38 93.99L489.26 94.11L489.2 94.23L489.22 94.35L489.3 94.47L489.45 94.59L489.67 94.71L489.96 94.83L490.31 94.95L490.72 95.08L491.18 95.2L491.7 95.32L492.26 95.44L492.87 95.55L493.51 95.65L494.18 95.74L494.88 95.81L495.6 95.87L496.33 95.9L497.06 95.9L497.8 95.87L498.53 95.81L499.24 95.72L499.94 95.58L500.61 95.41L501.24 95.19L501.84 94.93L502.4 94.64L502.9 94.3L503.36 93.92L503.76 93.51L504.09 93.08L504.37 92.61L504.58 92.12L504.72 91.62L504.79 91.11L504.79 90.6L504.73 90.09L504.59 89.59L504.39 89.1L504.12 88.63L503.78 88.19L503.39 87.78L502.94 87.4L502.44 87.06L501.88 86.76L501.29 86.5L500.65 86.28L499.99 86.11L499.3 85.97L498.58 85.87L497.85 85.81L497.12 85.78L496.38 85.78L495.65 85.81L494.93 85.86L494.23 85.93L493.56 86.02L492.91 86.12L492.3 86.23L491.74 86.34L491.22 86.46L490.75 86.59L490.34 86.71L489.98 86.83L489.69 86.96L489.47 87.08L489.31 87.2L489.22 87.32L489.2 87.44L489.25 87.56L489.37 87.68L489.56 87.8L489.81 87.92L490.13 88.04L490.51 88.17L490.94 88.29L491.43 88.41L491.97 88.53L492.56 88.65L493.18 88.75L493.84 88.85L494.53 88.93L495.24 88.99L495.96 89.03L496.7 89.05L497.44 89.04L498.17 89L498.89 88.92L499.6 88.8L500.28 88.65L500.93 88.45L501.55 88.22L502.13 87.94L502.66 87.62L503.14 87.26L503.57 86.87L503.93 86.45L504.24 85.99L504.48 85.52L504.66 85.02L504.76 84.52L504.8 84L504.77 83.49L504.67 82.98L504.5 82.49L504.26 82.01L503.96 81.56L503.59 81.13L503.17 80.74L502.69 80.38L502.16 80.06L501.59 79.78L500.97 79.54L500.32 79.34L499.64 79.18L498.94 79.06L498.22 78.98L497.48 78.94L496.75 78.92L496.01 78.94L495.29 78.98L494.58 79.04L493.89 79.12L493.23 79.22L492.6 79.32L492.01 79.43L491.47 79.55L490.97 79.68L490.53 79.8L490.15 79.92L489.83 80.05L489.57 80.17L489.38 80.29L489.26 80.41L489.2 80.53L489.22 80.65L489.3 80.77L489.46 80.89L489.68 81.01L489.96 81.13L490.31 81.26L490.72 81.38L491.18 81.5L491.7 81.62L492.26 81.74L492.87 81.85L493.51 81.95L494.19 82.04L494.89 82.11L495.6 82.17L496.33 82.2L497.07 82.2L497.81 82.17L498.53 82.11L499.25 82.02L499.94 81.88L500.61 81.7L501.25 81.49L501.85 81.23L502.4 80.93L502.91 80.59L503.36 80.22L503.76 79.81L504.1 79.37L504.37 78.91L504.58 78.42L504.72 77.92L504.79 77.41L504.79 76.9L504.72 76.38L504.59 75.88L504.38 75.4L504.11 74.93L503.78 74.49L503.39 74.08L502.94 73.7L502.43 73.36L501.88 73.06L501.28 72.8L500.65 72.58L499.98 72.4L499.29 72.27L498.58 72.17L497.85 72.11L497.11 72.08L496.38 72.08L495.65 72.11L494.93 72.16L494.23 72.23L493.55 72.32L492.91 72.42L492.3 72.53L491.73 72.64L491.21 72.76L490.75 72.89L490.33 73.01L489.98 73.14L489.69 73.26L489.47 73.38L489.31 73.5L489.22 73.62L489.2 73.74L489.25 73.86L489.37 73.98L489.56 74.1L489.81 74.22L490.13 74.34L490.51 74.47L490.95 74.59L491.44 74.71L491.98 74.83L492.56 74.95L493.19 75.05L493.85 75.15L494.54 75.23L495.25 75.29L495.97 75.33L496.7 75.35L497.44 75.34L498.17 75.3L498.9 75.22L499.6 75.1L500.28 74.95L500.94 74.75L501.55 74.51L502.13 74.24L502.66 73.92L503.14 73.56L503.57 73.17L503.94 72.74L504.24 72.29L504.48 71.81L504.66 71.32L504.76 70.81L504.8 70.3L504.77 69.79L504.66 69.28L504.49 68.79L504.26 68.31L503.95 67.85L503.59 67.43L503.17 67.03L502.69 66.67L502.16 66.35L501.58 66.07" fill="none" stroke="#ff0000" stroke-width="1.45" stroke-linejoin="round"/><polygon points="495.9,66.43 502.9,65.13 500.9,69.33" fill="#ff0000" />
<path d="M541.09 92.64L540.35 92.62L539.62 92.64L538.89 92.68L538.18 92.74L537.49 92.82L536.83 92.92L536.2 93.02L535.62 93.13L535.07 93.25L534.58 93.37L534.14 93.5L533.75 93.62L533.43 93.75L533.17 93.87L532.98 93.99L532.86 94.11L532.8 94.23L532.82 94.35L532.9 94.47L533.05 94.59L533.27 94.71L533.56 94.83L533.91 94.95L534.32 95.08L534.78 95.2L535.3 95.32L535.86 95.44L536.47 95.55L537.11 95.65L537.78 95.74L538.48 95.81L539.2 95.87L539.93 95.9L540.66 95.9L541.4 95.87L542.13 95.81L542.84 95.72L543.54 95.58L544.21 95.41L544.84 95.19L545.44 94.93L546 94.64L546.5 94.3L546.96 93.92L547.36 93.51L547.69 93.08L547.97 92.61L548.18 92.12L548.32 91.62L548.39 91.11L548.39 90.6L548.33 90.09L548.19 89.59L547.99 89.1L547.72 88.63L547.38 88.19L546.99 87.78L546.54 87.4L546.04 87.06L545.48 86.76L544.89 86.5L544.25 86.28L543.59 86.11L542.9 85.97L542.18 85.87L541.45 85.81L540.72 85.78L539.98 85.78L539.25 85.81L538.53 85.86L537.83 85.93L537.16 86.02L536.51 86.12L535.9 86.23L535.34 86.34L534.82 86.46L534.35 86.59L533.94 86.71L533.58 86.83L533.29 86.96L533.07 87.08L532.91 87.2L532.82 87.32L532.8 87.44L532.85 87.56L532.97 87.68L533.16 87.8L533.41 87.92L533.73 88.04L534.11 88.17L534.54 88.29L535.03 88.41L535.57 88.53L536.16 88.65L536.78 88.75L537.44 88.85L538.13 88.93L538.84 88.99L539.56 89.03L540.3 89.05L541.04 89.04L541.77 89L542.49 88.92L543.2 88.8L543.88 88.65L544.53 88.45L545.15 88.22L545.73 87.94L546.26 87.62L546.74 87.26L547.17 86.87L547.53 86.45L547.84 85.99L548.08 85.52L548.26 85.02L548.36 84.52L548.4 84L548.37 83.49L548.27 82.98L548.1 82.49L547.86 82.01L547.56 81.56L547.19 81.13L546.77 80.74L546.29 80.38L545.76 80.06L545.19 79.78L544.57 79.54L543.92 79.34L543.24 79.18L542.54 79.06L541.82 78.98L541.08 78.94L540.35 78.92L539.61 78.94L538.89 78.98L538.18 79.04L537.49 79.12L536.83 79.22L536.2 79.32L535.61 79.43L535.07 79.55L534.57 79.68L534.13 79.8L533.75 79.92L533.43 80.05L533.17 80.17L532.98 80.29L532.86 80.41L532.8 80.53L532.82 80.65L532.9 80.77L533.06 80.89L533.28 81.01L533.56 81.13L533.91 81.26L534.32 81.38L534.78 81.5L535.3 81.62L535.86 81.74L536.47 81.85L537.11 81.95L537.79 82.04L538.49 82.11L539.2 82.17L539.93 82.2L540.67 82.2L541.41 82.17L542.13 82.11L542.85 82.02L543.54 81.88L544.21 81.7L544.85 81.49L545.45 81.23L546 80.93L546.51 80.59L546.96 80.22L547.36 79.81L547.7 79.37L547.97 78.91L548.18 78.42L548.32 77.92L548.39 77.41L548.39 76.9L548.32 76.38L548.19 75.88L547.98 75.4L547.71 74.93L547.38 74.49L546.99 74.08L546.54 73.7L546.03 73.36L545.48 73.06L544.88 72.8L544.25 72.58L543.58 72.4L542.89 72.27L542.18 72.17L541.45 72.11L540.71 72.08L539.98 72.08L539.25 72.11L538.53 72.16L537.83 72.23L537.15 72.32L536.51 72.42L535.9 72.53L535.33 72.64L534.81 72.76L534.35 72.89L533.93 73.01L533.58 73.14L533.29 73.26L533.07 73.38L532.91 73.5L532.82 73.62L532.8 73.74L532.85 73.86L532.97 73.98L533.16 74.1L533.41 74.22L533.73 74.34L534.11 74.47L534.55 74.59L535.04 74.71L535.58 74.83L536.16 74.95L536.79 75.05L537.45 75.15L538.14 75.23L538.85 75.29L539.57 75.33L540.3 75.35L541.04 75.34L541.77 75.3L542.5 75.22L543.2 75.1L543.88 74.95L544.54 74.75L545.15 74.51L545.73 74.24L546.26 73.92L546.74 73.56L547.17 73.17L547.54 72.74L547.84 72.29L548.08 71.81L548.26 71.32L548.36 70.81L548.4 70.3L548.37 69.79L548.26 69.28L548.09 68.79L547.86 68.31L547.55 67.85L547.19 67.43L546.77 67.03L546.29 66.67L545.76 66.35L545.18 66.07" fill="none" stroke="#ff0000" stroke-width="1.45" stroke-linejoin="round"/><polygon points="539.5,66.43 546.5,65.13 544.5,69.33" fill="#ff0000" />
<path d="M584.69 92.64L583.95 92.62L583.22 92.64L582.49 92.68L581.78 92.74L581.09 92.82L580.43 92.92L579.8 93.02L579.22 93.13L578.67 93.25L578.18 93.37L577.74 93.5L577.35 93.62L577.03 93.75L576.77 93.87L576.58 93.99L576.46 94.11L576.4 94.23L576.42 94.35L576.5 94.47L576.65 94.59L576.87 94.71L577.16 94.83L577.51 94.95L577.92 95.08L578.38 95.2L578.9 95.32L579.46 95.44L580.07 95.55L580.71 95.65L581.38 95.74L582.08 95.81L582.8 95.87L583.53 95.9L584.26 95.9L585 95.87L585.73 95.81L586.44 95.72L587.14 95.58L587.81 95.41L588.44 95.19L589.04 94.93L589.6 94.64L590.1 94.3L590.56 93.92L590.96 93.51L591.29 93.08L591.57 92.61L591.78 92.12L591.92 91.62L591.99 91.11L591.99 90.6L591.93 90.09L591.79 89.59L591.59 89.1L591.32 88.63L590.98 88.19L590.59 87.78L590.14 87.4L589.64 87.06L589.08 86.76L588.49 86.5L587.85 86.28L587.19 86.11L586.5 85.97L585.78 85.87L585.05 85.81L584.32 85.78L583.58 85.78L582.85 85.81L582.13 85.86L581.43 85.93L580.76 86.02L580.11 86.12L579.5 86.23L578.94 86.34L578.42 86.46L577.95 86.59L577.54 86.71L577.18 86.83L576.89 86.96L576.67 87.08L576.51 87.2L576.42 87.32L576.4 87.44L576.45 87.56L576.57 87.68L576.76 87.8L577.01 87.92L577.33 88.04L577.71 88.17L578.14 88.29L578.63 88.41L579.17 88.53L579.76 88.65L580.38 88.75L581.04 88.85L581.73 88.93L582.44 88.99L583.16 89.03L583.9 89.05L584.64 89.04L585.37 89L586.09 88.92L586.8 88.8L587.48 88.65L588.13 88.45L588.75 88.22L589.33 87.94L589.86 87.62L590.34 87.26L590.77 86.87L591.13 86.45L591.44 85.99L591.68 85.52L591.86 85.02L591.96 84.52L592 84L591.97 83.49L591.87 82.98L591.7 82.49L591.46 82.01L591.16 81.56L590.79 81.13L590.37 80.74L589.89 80.38L589.36 80.06L588.79 79.78L588.17 79.54L587.52 79.34L586.84 79.18L586.14 79.06L585.42 78.98L584.68 78.94L583.95 78.92L583.21 78.94L582.49 78.98L581.78 79.04L581.09 79.12L580.43 79.22L579.8 79.32L579.21 79.43L578.67 79.55L578.17 79.68L577.73 79.8L577.35 79.92L577.03 80.05L576.77 80.17L576.58 80.29L576.46 80.41L576.4 80.53L576.42 80.65L576.5 80.77L576.66 80.89L576.88 81.01L577.16 81.13L577.51 81.26L577.92 81.38L578.38 81.5L578.9 81.62L579.46 81.74L580.07 81.85L580.71 81.95L581.39 82.04L582.09 82.11L582.8 82.17L583.53 82.2L584.27 82.2L585.01 82.17L585.73 82.11L586.45 82.02L587.14 81.88L587.81 81.7L588.45 81.49L589.05 81.23L589.6 80.93L590.11 80.59L590.56 80.22L590.96 79.81L591.3 79.37L591.57 78.91L591.78 78.42L591.92 77.92L591.99 77.41L591.99 76.9L591.92 76.38L591.79 75.88L591.58 75.4L591.31 74.93L590.98 74.49L590.59 74.08L590.14 73.7L589.63 73.36L589.08 73.06L588.48 72.8L587.85 72.58L587.18 72.4L586.49 72.27L585.78 72.17L585.05 72.11L584.31 72.08L583.58 72.08L582.85 72.11L582.13 72.16L581.43 72.23L580.75 72.32L580.11 72.42L579.5 72.53L578.93 72.64L578.41 72.76L577.95 72.89L577.53 73.01L577.18 73.14L576.89 73.26L576.67 73.38L576.51 73.5L576.42 73.62L576.4 73.74L576.45 73.86L576.57 73.98L576.76 74.1L577.01 74.22L577.33 74.34L577.71 74.47L578.15 74.59L578.64 74.71L579.18 74.83L579.76 74.95L580.39 75.05L581.05 75.15L581.74 75.23L582.45 75.29L583.17 75.33L583.9 75.35L584.64 75.34L585.37 75.3L586.1 75.22L586.8 75.1L587.48 74.95L588.14 74.75L588.75 74.51L589.33 74.24L589.86 73.92L590.34 73.56L590.77 73.17L591.14 72.74L591.44 72.29L591.68 71.81L591.86 71.32L591.96 70.81L592 70.3L591.97 69.79L591.86 69.28L591.69 68.79L591.46 68.31L591.15 67.85L590.79 67.43L590.37 67.03L589.89 66.67L589.36 66.35L588.78 66.07" fill="none" stroke="#ff0000" stroke-width="1.45" stroke-linejoin="round"/><polygon points="583.1,66.43 590.1,65.13 588.1,69.33" fill="#ff0000" />
<rect x="415.9" y="50" width="5.6" height="24" fill="#2020ff"/>
<polygon points="418.7,34 426.6,53.5 418.7,50 410.8,53.5" fill="#2020ff"/>
<text x="427.8" y="65" font-size="16" fill="#2020ff" text-anchor="start" font-style="italic" >B</text>
<path d="M366.1 83V114.4H399.5" fill="none" stroke="#000" stroke-width="2.6"/>
<polygon points="366.1,75.6 370.4,86.1 366.1,83.6 361.8,86.1" fill="#000"/>
<polygon points="407,114.4 396.5,118.7 399,114.4 396.5,110.1" fill="#000"/>
<line x1="366.1" y1="114.4" x2="389.97" y2="91.27" stroke="#000" stroke-width="2.6" />
<polygon points="395,86.4 390.45,96.79 389.25,91.97 384.47,90.62" fill="#000"/>
<text x="362.4" y="70.7" font-size="17.5" fill="#1a1a1a" text-anchor="start" font-style="italic" >z</text>
<text x="398.8" y="89.8" font-size="16.5" fill="#1a1a1a" text-anchor="start" font-style="italic" >y</text>
<text x="410" y="119.3" font-size="16.5" fill="#1a1a1a" text-anchor="start" font-style="italic" >x</text>
<!-- panel b middle -->
<path d="M399.2 218.3C447.2 444.3 622.3 444.3 670.3 218.3Z" fill="#ffefd0"/>
<path d="M410.9 218.3C461.9 385.37 608 385.37 659 218.3Z" fill="#fee1a6"/>
<path d="M429.1 218.3C484.6 328.17 585.4 328.17 640.9 218.3Z" fill="#fed788"/>
<path d="M457.3 218.3C499.3 270.97 571.4 270.97 613.4 218.3Z" fill="#fdd06c"/>
<clipPath id="pclip"><rect x="380" y="218" width="305" height="200"/></clipPath>
<g clip-path="url(#pclip)" fill="none" stroke="#5b5b5b" stroke-width="2.8">
<path d="M399.2 218.3C447.2 444.3 622.3 444.3 670.3 218.3"/>
<path d="M410.9 218.3C461.9 385.37 608 385.37 659 218.3"/>
<path d="M429.1 218.3C484.6 328.17 585.4 328.17 640.9 218.3"/>
<path d="M457.3 218.3C499.3 270.97 571.4 270.97 613.4 218.3"/>
</g>
<line x1="397.1" y1="315.7" x2="668.6" y2="315.7" stroke="#8e8e8e" stroke-width="2.7" />
<line x1="579.1" y1="215" x2="579.1" y2="414.8" stroke="#111" stroke-width="1.35" stroke-dasharray="6.5 4.2"/>
<line x1="399" y1="402.8" x2="671.5" y2="402.8" stroke="#000" stroke-width="3" />
<polygon points="678.3,402.8 667.3,407.2 669.7,402.8 667.3,398.4" fill="#000"/>
<line x1="534.9" y1="402.8" x2="534.9" y2="200.5" stroke="#000" stroke-width="3" />
<polygon points="534.9,193 539.3,204 534.9,201.6 530.5,204" fill="#000"/>
<text x="516.8" y="196.7" font-size="16.5" fill="#000" text-anchor="start" textLength="9.8" lengthAdjust="spacingAndGlyphs" font-style="italic" >E</text>
<text x="544" y="164.4" font-size="18" fill="#ee7d32" text-anchor="start" textLength="138.2" lengthAdjust="spacingAndGlyphs"  >Number of chiral</text>
<text x="545.3" y="184.1" font-size="18" fill="#ee7d32" text-anchor="start" textLength="130.4" lengthAdjust="spacingAndGlyphs"  >boundary states</text>
<text x="545.3" y="203.8" font-size="18" fill="#ee7d32" text-anchor="start" textLength="59" lengthAdjust="spacingAndGlyphs"  >at fixed</text>
<text x="610" y="203.8" font-size="18" fill="#ee7d32" text-anchor="start" font-style="italic" >k</text>
<text x="619.4" y="209.8" font-size="12.5" fill="#ee7d32" text-anchor="start" font-style="italic" >z</text>
<text x="542" y="248" font-size="18" fill="#ee7d32" text-anchor="start"  >4</text>
<text x="542" y="292.9" font-size="18" fill="#ee7d32" text-anchor="start"  >3</text>
<text x="542" y="338.3" font-size="18" fill="#ee7d32" text-anchor="start"  >2</text>
<text x="542" y="372" font-size="18" fill="#ee7d32" text-anchor="start"  >1</text>
<text x="372.2" y="321.5" font-size="17.5" fill="#8a8a8a" text-anchor="start" textLength="9.9" lengthAdjust="spacingAndGlyphs" font-style="italic" >E</text>
<text x="382.3" y="326.4" font-size="11.8" fill="#8a8a8a" text-anchor="start"  >F</text>
<text x="664.4" y="388.9" font-size="18" fill="#000" text-anchor="start" font-style="italic" >k</text>
<text x="673.2" y="394" font-size="12.5" fill="#000" text-anchor="start" font-style="italic" >z</text>
<!-- panel b bottom -->
<path d="M371.9 414.8H684.2V623.1H371.9Z" fill="#f2f2f2" stroke="#111" stroke-width="1.55" stroke-dasharray="6.6 4.2"/>
<clipPath id="bclip"><rect x="0" y="438.1" width="685" height="300"/></clipPath>
<g clip-path="url(#bclip)" fill="none" stroke-width="3" stroke-linecap="butt">
<path d="M456.08 555.8L457.56 555.75L459.05 555.59L460.53 555.32L462.01 554.95L463.49 554.48L464.97 553.91L466.45 553.25L467.93 552.5L469.42 551.66L470.9 550.73L472.38 549.74L473.86 548.67L475.34 547.54L476.82 546.35L478.3 545.12L479.79 543.85L481.27 542.54L482.75 541.21L484.23 539.86L485.71 538.5L487.19 537.14L488.67 535.79L490.15 534.46L491.64 533.15L493.12 531.88L494.6 530.65L496.08 529.46L497.56 528.33L499.04 527.26L500.52 526.27L502.01 525.34L503.49 524.5L504.97 523.75L506.45 523.09L507.93 522.52L509.41 522.05L510.89 521.68L512.37 521.41L513.86 521.25L515.34 521.2M456.08 521.2L457.56 521.15L459.05 520.99L460.53 520.72L462.01 520.35L463.49 519.88L464.97 519.31L466.45 518.65L467.93 517.9L469.42 517.06L470.9 516.13L472.38 515.14L473.86 514.07L475.34 512.94L476.82 511.75L478.3 510.52L479.79 509.25L481.27 507.94L482.75 506.61L484.23 505.26L485.71 503.9L487.19 502.54L488.67 501.19L490.15 499.86L491.64 498.55L493.12 497.28L494.6 496.05L496.08 494.86L497.56 493.73L499.04 492.66L500.52 491.67L502.01 490.74L503.49 489.9L504.97 489.15L506.45 488.49L507.93 487.92L509.41 487.45L510.89 487.08L512.37 486.81L513.86 486.65L515.34 486.6M481.33 521.2L482.82 521.15L484.3 520.99L485.78 520.72L487.26 520.35L488.74 519.88L490.22 519.31L491.7 518.65L493.19 517.9L494.67 517.06L496.15 516.13L497.63 515.14L499.11 514.07L500.59 512.94L502.07 511.75L503.56 510.52L505.04 509.25L506.52 507.94L508 506.61L509.48 505.26L510.96 503.9L512.44 502.54L513.92 501.19L515.41 499.86L516.89 498.55L518.37 497.28L519.85 496.05L521.33 494.86L522.81 493.73L524.29 492.66L525.78 491.67L527.26 490.74L528.74 489.9L530.22 489.15L531.7 488.49L533.18 487.92L534.66 487.45L536.14 487.08L537.63 486.81L539.11 486.65L540.59 486.6M445.7 486.3L447.18 486.25L448.67 486.09L450.15 485.82L451.63 485.45L453.11 484.98L454.59 484.41L456.07 483.75L457.55 483L459.04 482.16L460.52 481.23L462 480.24L463.48 479.17L464.96 478.04L466.44 476.85L467.92 475.62L469.4 474.35L470.89 473.04L472.37 471.71L473.85 470.36L475.33 469L476.81 467.64L478.29 466.29L479.77 464.96L481.26 463.65L482.74 462.38L484.22 461.15L485.7 459.96L487.18 458.83L488.66 457.76L490.14 456.77L491.62 455.84L493.11 455L494.59 454.25L496.07 453.59L497.55 453.02L499.03 452.55L500.51 452.18L501.99 451.91L503.48 451.75L504.96 451.7M471.41 486.3L472.89 486.25L474.37 486.09L475.85 485.82L477.34 485.45L478.82 484.98L480.3 484.41L481.78 483.75L483.26 483L484.74 482.16L486.22 481.23L487.7 480.24L489.19 479.17L490.67 478.04L492.15 476.85L493.63 475.62L495.11 474.35L496.59 473.04L498.07 471.71L499.56 470.36L501.04 469L502.52 467.64L504 466.29L505.48 464.96L506.96 463.65L508.44 462.38L509.93 461.15L511.41 459.96L512.89 458.83L514.37 457.76L515.85 456.77L517.33 455.84L518.81 455L520.29 454.25L521.78 453.59L523.26 453.02L524.74 452.55L526.22 452.18L527.7 451.91L529.18 451.75L530.66 451.7M497.12 486.3L498.6 486.25L500.08 486.09L501.56 485.82L503.04 485.45L504.52 484.98L506.01 484.41L507.49 483.75L508.97 483L510.45 482.16L511.93 481.23L513.41 480.24L514.89 479.17L516.37 478.04L517.86 476.85L519.34 475.62L520.82 474.35L522.3 473.04L523.78 471.71L525.26 470.36L526.74 469L528.23 467.64L529.71 466.29L531.19 464.96L532.67 463.65L534.15 462.38L535.63 461.15L537.11 459.96L538.6 458.83L540.08 457.76L541.56 456.77L543.04 455.84L544.52 455L546 454.25L547.48 453.59L548.96 453.02L550.45 452.55L551.93 452.18L553.41 451.91L554.89 451.75L556.37 451.7M449.91 451.7L451.4 451.65L452.88 451.49L454.36 451.22L455.84 450.85L457.32 450.38L458.8 449.81L460.28 449.15L461.77 448.4L463.25 447.56L464.73 446.63L466.21 445.64L467.69 444.57L469.17 443.44L470.65 442.25L472.13 441.02L473.62 439.75L475.1 438.44L476.58 437.11L478.06 435.76L479.54 434.4L481.02 433.04L482.5 431.69L483.99 430.36L485.47 429.05L486.95 427.78L488.43 426.55L489.91 425.36L491.39 424.23L492.87 423.16L494.36 422.17L495.84 421.24L497.32 420.4L498.8 419.65L500.28 418.99L501.76 418.42L503.24 417.95L504.72 417.58L506.21 417.31L507.69 417.15L509.17 417.1M475.44 451.7L476.92 451.65L478.4 451.49L479.88 451.22L481.36 450.85L482.85 450.38L484.33 449.81L485.81 449.15L487.29 448.4L488.77 447.56L490.25 446.63L491.73 445.64L493.22 444.57L494.7 443.44L496.18 442.25L497.66 441.02L499.14 439.75L500.62 438.44L502.1 437.11L503.59 435.76L505.07 434.4L506.55 433.04L508.03 431.69L509.51 430.36L510.99 429.05L512.47 427.78L513.95 426.55L515.44 425.36L516.92 424.23L518.4 423.16L519.88 422.17L521.36 421.24L522.84 420.4L524.32 419.65L525.81 418.99L527.29 418.42L528.77 417.95L530.25 417.58L531.73 417.31L533.21 417.15L534.69 417.1M500.96 451.7L502.45 451.65L503.93 451.49L505.41 451.22L506.89 450.85L508.37 450.38L509.85 449.81L511.33 449.15L512.81 448.4L514.3 447.56L515.78 446.63L517.26 445.64L518.74 444.57L520.22 443.44L521.7 442.25L523.18 441.02L524.67 439.75L526.15 438.44L527.63 437.11L529.11 435.76L530.59 434.4L532.07 433.04L533.55 431.69L535.04 430.36L536.52 429.05L538 427.78L539.48 426.55L540.96 425.36L542.44 424.23L543.92 423.16L545.4 422.17L546.89 421.24L548.37 420.4L549.85 419.65L551.33 418.99L552.81 418.42L554.29 417.95L555.77 417.58L557.26 417.31L558.74 417.15L560.22 417.1M526.94 451.7L528.43 451.65L529.91 451.49L531.39 451.22L532.87 450.85L534.35 450.38L535.83 449.81L537.31 449.15L538.8 448.4L540.28 447.56L541.76 446.63L543.24 445.64L544.72 444.57L546.2 443.44L547.68 442.25L549.17 441.02L550.65 439.75L552.13 438.44L553.61 437.11L555.09 435.76L556.57 434.4L558.05 433.04L559.53 431.69L561.02 430.36L562.5 429.05L563.98 427.78L565.46 426.55L566.94 425.36L568.42 424.23L569.9 423.16L571.39 422.17L572.87 421.24L574.35 420.4L575.83 419.65L577.31 418.99L578.79 418.42L580.27 417.95L581.75 417.58L583.24 417.31L584.72 417.15L586.2 417.1" stroke="#f0ab34"/>
<path d="M576.05 521.2L577.53 521.25L579.01 521.41L580.49 521.68L581.98 522.05L583.46 522.52L584.94 523.09L586.42 523.75L587.9 524.5L589.38 525.34L590.86 526.27L592.35 527.26L593.83 528.33L595.31 529.46L596.79 530.65L598.27 531.88L599.75 533.15L601.23 534.46L602.71 535.79L604.2 537.14L605.68 538.5L607.16 539.86L608.64 541.21L610.12 542.54L611.6 543.85L613.08 545.12L614.57 546.35L616.05 547.54L617.53 548.67L619.01 549.74L620.49 550.73L621.97 551.66L623.45 552.5L624.93 553.25L626.42 553.91L627.9 554.48L629.38 554.95L630.86 555.32L632.34 555.59L633.82 555.75L635.3 555.8M576.65 486.6L578.13 486.65L579.61 486.81L581.09 487.08L582.58 487.45L584.06 487.92L585.54 488.49L587.02 489.15L588.5 489.9L589.98 490.74L591.46 491.67L592.95 492.66L594.43 493.73L595.91 494.86L597.39 496.05L598.87 497.28L600.35 498.55L601.83 499.86L603.31 501.19L604.8 502.54L606.28 503.9L607.76 505.26L609.24 506.61L610.72 507.94L612.2 509.25L613.68 510.52L615.17 511.75L616.65 512.94L618.13 514.07L619.61 515.14L621.09 516.13L622.57 517.06L624.05 517.9L625.53 518.65L627.02 519.31L628.5 519.88L629.98 520.35L631.46 520.72L632.94 520.99L634.42 521.15L635.9 521.2M551.4 486.6L552.88 486.65L554.36 486.81L555.84 487.08L557.32 487.45L558.81 487.92L560.29 488.49L561.77 489.15L563.25 489.9L564.73 490.74L566.21 491.67L567.69 492.66L569.18 493.73L570.66 494.86L572.14 496.05L573.62 497.28L575.1 498.55L576.58 499.86L578.06 501.19L579.54 502.54L581.03 503.9L582.51 505.26L583.99 506.61L585.47 507.94L586.95 509.25L588.43 510.52L589.91 511.75L591.4 512.94L592.88 514.07L594.36 515.14L595.84 516.13L597.32 517.06L598.8 517.9L600.28 518.65L601.76 519.31L603.25 519.88L604.73 520.35L606.21 520.72L607.69 520.99L609.17 521.15L610.65 521.2M586.3 451.7L587.78 451.75L589.26 451.91L590.74 452.18L592.22 452.55L593.7 453.02L595.18 453.59L596.66 454.25L598.15 455L599.63 455.84L601.11 456.77L602.59 457.76L604.07 458.83L605.55 459.96L607.03 461.15L608.52 462.38L610 463.65L611.48 464.96L612.96 466.29L614.44 467.64L615.92 469L617.4 470.36L618.89 471.71L620.37 473.04L621.85 474.35L623.33 475.62L624.81 476.85L626.29 478.04L627.77 479.17L629.25 480.24L630.74 481.23L632.22 482.16L633.7 483L635.18 483.75L636.66 484.41L638.14 484.98L639.62 485.45L641.11 485.82L642.59 486.09L644.07 486.25L645.55 486.3M560.59 451.7L562.07 451.75L563.55 451.91L565.03 452.18L566.51 452.55L568 453.02L569.48 453.59L570.96 454.25L572.44 455L573.92 455.84L575.4 456.77L576.88 457.76L578.36 458.83L579.85 459.96L581.33 461.15L582.81 462.38L584.29 463.65L585.77 464.96L587.25 466.29L588.73 467.64L590.22 469L591.7 470.36L593.18 471.71L594.66 473.04L596.14 474.35L597.62 475.62L599.1 476.85L600.58 478.04L602.07 479.17L603.55 480.24L605.03 481.23L606.51 482.16L607.99 483L609.47 483.75L610.95 484.41L612.44 484.98L613.92 485.45L615.4 485.82L616.88 486.09L618.36 486.25L619.84 486.3M534.88 451.7L536.36 451.75L537.84 451.91L539.33 452.18L540.81 452.55L542.29 453.02L543.77 453.59L545.25 454.25L546.73 455L548.21 455.84L549.69 456.77L551.18 457.76L552.66 458.83L554.14 459.96L555.62 461.15L557.1 462.38L558.58 463.65L560.06 464.96L561.55 466.29L563.03 467.64L564.51 469L565.99 470.36L567.47 471.71L568.95 473.04L570.43 474.35L571.91 475.62L573.4 476.85L574.88 478.04L576.36 479.17L577.84 480.24L579.32 481.23L580.8 482.16L582.28 483L583.77 483.75L585.25 484.41L586.73 484.98L588.21 485.45L589.69 485.82L591.17 486.09L592.65 486.25L594.14 486.3M588.77 417.1L590.25 417.15L591.73 417.31L593.21 417.58L594.69 417.95L596.17 418.42L597.65 418.99L599.14 419.65L600.62 420.4L602.1 421.24L603.58 422.17L605.06 423.16L606.54 424.23L608.02 425.36L609.51 426.55L610.99 427.78L612.47 429.05L613.95 430.36L615.43 431.69L616.91 433.04L618.39 434.4L619.87 435.76L621.36 437.11L622.84 438.44L624.32 439.75L625.8 441.02L627.28 442.25L628.76 443.44L630.24 444.57L631.73 445.64L633.21 446.63L634.69 447.56L636.17 448.4L637.65 449.15L639.13 449.81L640.61 450.38L642.09 450.85L643.58 451.22L645.06 451.49L646.54 451.65L648.02 451.7M563.24 417.1L564.72 417.15L566.2 417.31L567.69 417.58L569.17 417.95L570.65 418.42L572.13 418.99L573.61 419.65L575.09 420.4L576.57 421.24L578.05 422.17L579.54 423.16L581.02 424.23L582.5 425.36L583.98 426.55L585.46 427.78L586.94 429.05L588.42 430.36L589.91 431.69L591.39 433.04L592.87 434.4L594.35 435.76L595.83 437.11L597.31 438.44L598.79 439.75L600.28 441.02L601.76 442.25L603.24 443.44L604.72 444.57L606.2 445.64L607.68 446.63L609.16 447.56L610.64 448.4L612.13 449.15L613.61 449.81L615.09 450.38L616.57 450.85L618.05 451.22L619.53 451.49L621.01 451.65L622.5 451.7M537.72 417.1L539.2 417.15L540.68 417.31L542.16 417.58L543.64 417.95L545.12 418.42L546.6 418.99L548.09 419.65L549.57 420.4L551.05 421.24L552.53 422.17L554.01 423.16L555.49 424.23L556.97 425.36L558.46 426.55L559.94 427.78L561.42 429.05L562.9 430.36L564.38 431.69L565.86 433.04L567.34 434.4L568.82 435.76L570.31 437.11L571.79 438.44L573.27 439.75L574.75 441.02L576.23 442.25L577.71 443.44L579.19 444.57L580.68 445.64L582.16 446.63L583.64 447.56L585.12 448.4L586.6 449.15L588.08 449.81L589.56 450.38L591.05 450.85L592.53 451.22L594.01 451.49L595.49 451.65L596.97 451.7M511.74 417.1L513.22 417.15L514.7 417.31L516.18 417.58L517.66 417.95L519.14 418.42L520.62 418.99L522.11 419.65L523.59 420.4L525.07 421.24L526.55 422.17L528.03 423.16L529.51 424.23L530.99 425.36L532.47 426.55L533.96 427.78L535.44 429.05L536.92 430.36L538.4 431.69L539.88 433.04L541.36 434.4L542.84 435.76L544.33 437.11L545.81 438.44L547.29 439.75L548.77 441.02L550.25 442.25L551.73 443.44L553.21 444.57L554.7 445.64L556.18 446.63L557.66 447.56L559.14 448.4L560.62 449.15L562.1 449.81L563.58 450.38L565.06 450.85L566.55 451.22L568.03 451.49L569.51 451.65L570.99 451.7" stroke="#5b9bd5"/>
</g>
<line x1="442.2" y1="555.8" x2="651.3" y2="555.8" stroke="#595959" stroke-width="3" />
<line x1="442.2" y1="521.2" x2="651.3" y2="521.2" stroke="#595959" stroke-width="3" />
<line x1="442.2" y1="486.3" x2="651.3" y2="486.3" stroke="#595959" stroke-width="3" />
<line x1="442.2" y1="451.7" x2="651.3" y2="451.7" stroke="#595959" stroke-width="3" />
<line x1="439.2" y1="498.7" x2="666.3" y2="498.7" stroke="#8e8e8e" stroke-width="3" />
<line x1="433.5" y1="582.1" x2="662" y2="582.1" stroke="#000" stroke-width="3" />
<polygon points="669.2,582.1 658.2,586.5 660.6,582.1 658.2,577.7" fill="#000"/>
<line x1="547" y1="582.1" x2="547" y2="446" stroke="#000" stroke-width="3" />
<polygon points="547,438.6 551.4,449.6 547,447.2 542.6,449.6" fill="#000"/>
<text x="531.7" y="437.3" font-size="16.5" fill="#000" text-anchor="start" textLength="9.6" lengthAdjust="spacingAndGlyphs" font-style="italic" >E</text>
<text x="648.6" y="602.9" font-size="18" fill="#000" text-anchor="start" font-style="italic" >k</text>
<text x="657" y="608.5" font-size="12.5" fill="#000" text-anchor="start" font-style="italic" >x</text>
<text x="415.2" y="504" font-size="16.5" fill="#8a8a8a" text-anchor="start" textLength="9.4" lengthAdjust="spacingAndGlyphs" font-style="italic" >E</text>
<text x="424.9" y="509" font-size="11.2" fill="#8a8a8a" text-anchor="start"  >F</text>
<g transform="translate(400.6 550.6) rotate(-90)">
<text x="0" y="0" font-size="18" fill="#1a1a1a" text-anchor="start" textLength="42.5" lengthAdjust="spacingAndGlyphs"  >Fixed</text>
<text x="47.6" y="0" font-size="18" fill="#1a1a1a" text-anchor="start" font-style="italic" >k</text>
<text x="57" y="5.8" font-size="12.5" fill="#1a1a1a" text-anchor="start" font-style="italic" >z</text>
</g>
</svg>
</body></html>
